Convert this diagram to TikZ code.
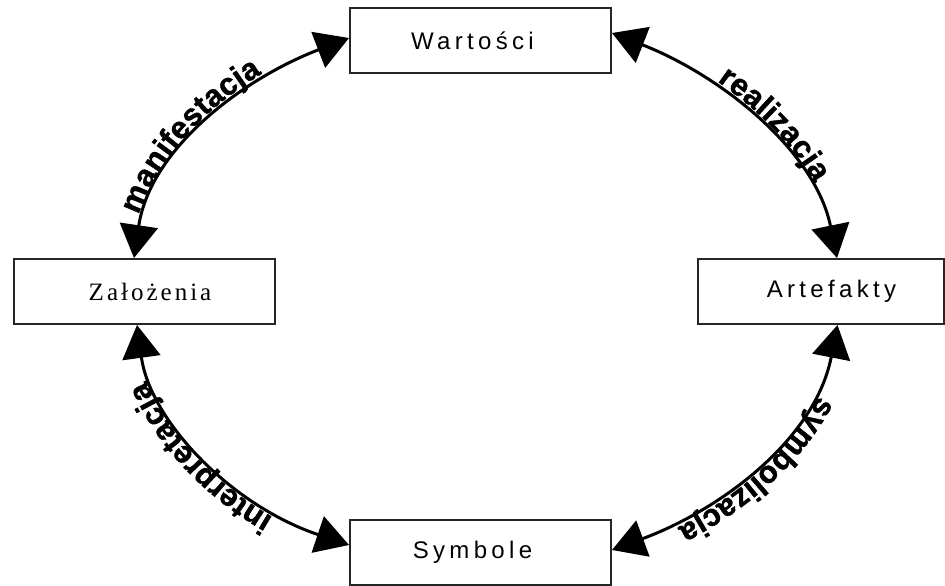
\documentclass[tikz,border=0pt]{standalone}
\usepackage{fontspec}
\newfontfamily\boxsans{Liberation Sans}[LetterSpace=18]
\newfontfamily\boxserif{Liberation Serif}[LetterSpace=12]
\newfontfamily\lblfam{Liberation Sans}[BoldFeatures={FakeBold=1.3}]
\newcommand\lblstyle{\lblfam\bfseries\fontsize{31}{38}\selectfont}
\usetikzlibrary{arrows.meta,decorations.text}
\tikzset{
  box/.style={draw=black!85, line width=2pt, rectangle, minimum width=261pt,
    minimum height=65pt, inner sep=0pt, font=\boxsans\fontsize{24}{28}\selectfont},
  link/.style={line width=3pt,
    {Triangle[length=33pt,width=38pt]}-{Triangle[length=33pt,width=38pt]}},
  lbl/.style 2 args={decorate, decoration={text along path, text align={left indent=#1},
    raise=6pt, text={#2}}},
}
\begin{document}
\begin{tikzpicture}[x=1pt,y=-1pt]
\useasboundingbox (0,0) rectangle (945,586);
\node[box] (w) at (480.5,41) {\hspace*{-16pt}Wartości};
\node[box, font=\boxserif\fontsize{25}{29}\selectfont] (z) at (144,291.5) {\hspace*{12pt}Założenia};
\node[box, minimum width=246pt] (a) at (820.5,291.5) {\hspace*{22pt}Artefakty};
\node[box] (s) at (480.5,552.5) {\hspace*{-16pt}Symbole};

% manifestacja
\draw[link] ([xshift=-10pt]z.north) .. controls (150,150) and (240,80) .. ([yshift=3pt]w.west);
\path[lbl={42pt}{|\lblstyle|manifestacja}] ([xshift=-10pt]z.north) .. controls (150,150) and (240,80) .. ([yshift=3pt]w.west);
% realizacja
\draw[link] ([yshift=8pt]w.east) .. controls (720,75) and (815,150) .. ([xshift=16.5pt]a.north);
\path[lbl={115pt}{|\lblstyle|realizacja}] ([yshift=8pt]w.east) .. controls (720,75) and (815,150) .. ([xshift=16.5pt]a.north);
% symbolizacja
\draw[link] ([xshift=17pt]a.south) .. controls (815,440) and (720,510) .. ([yshift=2.5pt]s.east);
\path[lbl={72pt}{|\lblstyle|symbolizacja}] ([xshift=17pt]a.south) .. controls (815,440) and (720,510) .. ([yshift=2.5pt]s.east);
% interpretacja
\draw[link] ([yshift=7.5pt]s.west) .. controls (230,505) and (150,420) .. ([xshift=-7pt]z.south);
\path[lbl={80pt}{|\lblstyle|interpretacja}] ([yshift=7.5pt]s.west) .. controls (230,505) and (150,420) .. ([xshift=-7pt]z.south);
\end{tikzpicture}
\end{document}
